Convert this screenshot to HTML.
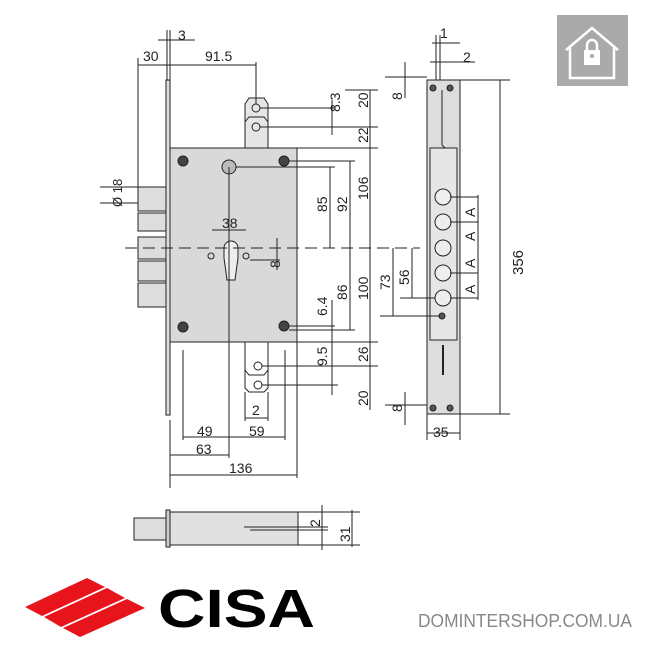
<!DOCTYPE html>
<html><head><meta charset="utf-8"><style>
html,body{margin:0;padding:0;background:#fff;}
svg{display:block;font-family:"Liberation Sans",sans-serif;}
</style></head><body>
<svg width="650" height="650" viewBox="0 0 650 650" xmlns="http://www.w3.org/2000/svg">
<g stroke="#222" stroke-width="1" fill="none">
<rect x="166" y="80" width="4" height="335" fill="#ddd"/>
<g fill="#ddd">
<rect x="138" y="187" width="28" height="24"/>
<rect x="138" y="213" width="28" height="18"/>
<rect x="138" y="237" width="28" height="22"/>
<rect x="138" y="261" width="28" height="20"/>
<rect x="138" y="283" width="28" height="24"/>
</g>
<rect x="170" y="148" width="127" height="194" fill="#d9d9d9"/>
<path d="M245,148 V104 l4,-6 h15 l4,6 V148 Z" fill="#e6e6e6"/>
<path d="M245,122 l4,-5 h15 l4,5"/>
<circle cx="256" cy="108" r="4"/><circle cx="256" cy="127" r="4"/>
<path d="M245,342 V388 l4,4 h15 l4,-4 V342"/>
<path d="M245,370 l4,5 h15 l4,-5"/>
<circle cx="258" cy="366" r="4"/><circle cx="258" cy="385" r="4"/>
<g fill="#444"><circle cx="183" cy="161" r="5"/><circle cx="284" cy="161" r="5"/><circle cx="183" cy="327" r="5"/><circle cx="284" cy="326" r="5"/></g>
<circle cx="229" cy="167" r="7" fill="#bbb"/>
<path d="M224,258 v-10 a7,7 0 0 1 14,0 v10 l-3,22 h-8 Z" fill="#eee"/>
<circle cx="211" cy="256" r="3"/><circle cx="246" cy="256" r="3"/>
<line x1="125" y1="248" x2="420" y2="248" stroke-dasharray="12,6"/>
<line x1="229" y1="167" x2="229" y2="458"/>
<line x1="183" y1="350" x2="183" y2="440"/>
<line x1="285" y1="350" x2="285" y2="440"/>
<line x1="170" y1="420" x2="170" y2="488"/>
<line x1="297" y1="342" x2="297" y2="478"/>
<line x1="245" y1="392" x2="245" y2="421"/><line x1="268" y1="392" x2="268" y2="421"/>
<line x1="138" y1="58" x2="138" y2="190"/>
<line x1="167" y1="30" x2="167" y2="80"/><line x1="170" y1="30" x2="170" y2="80"/>
<line x1="256" y1="62" x2="256" y2="104"/>
<line x1="138" y1="65" x2="256" y2="65"/>
<line x1="158" y1="40" x2="195" y2="40"/>
<line x1="183" y1="437" x2="285" y2="437"/>
<line x1="170" y1="455" x2="229" y2="455"/>
<line x1="170" y1="475" x2="297" y2="475"/>
<line x1="245" y1="418" x2="268" y2="418"/>
<line x1="100" y1="187" x2="138" y2="187"/><line x1="100" y1="203" x2="138" y2="203"/>
<line x1="260" y1="108" x2="335" y2="108"/><line x1="260" y1="127" x2="378" y2="127"/>
<line x1="345" y1="90" x2="378" y2="90"/>
<line x1="297" y1="148" x2="378" y2="148"/>
<line x1="289" y1="161" x2="355" y2="161"/>
<line x1="236" y1="167" x2="335" y2="167"/>
<line x1="289" y1="326" x2="335" y2="326"/><line x1="289" y1="330" x2="355" y2="330"/>
<line x1="297" y1="342" x2="378" y2="342"/>
<line x1="262" y1="366" x2="378" y2="366"/><line x1="262" y1="385" x2="338" y2="385"/>
<line x1="330" y1="167" x2="330" y2="248"/>
<line x1="350" y1="161" x2="350" y2="330"/>
<line x1="370" y1="90" x2="370" y2="410"/>
<line x1="332" y1="100" x2="332" y2="135"/>
<line x1="332" y1="300" x2="332" y2="395"/>
<line x1="250" y1="260" x2="280" y2="260"/><line x1="277" y1="238" x2="277" y2="270"/>
<line x1="212" y1="230" x2="246" y2="230"/>
<rect x="134" y="518" width="32" height="22" fill="#ddd"/>
<rect x="166" y="510" width="4" height="37" fill="#ccc"/>
<rect x="170" y="512" width="128" height="33" fill="#e0e0e0"/>
<line x1="244" y1="527" x2="328" y2="527"/><line x1="250" y1="530" x2="328" y2="530"/>
<line x1="298" y1="512" x2="360" y2="512"/><line x1="298" y1="545" x2="360" y2="545"/>
<line x1="322" y1="505" x2="322" y2="550"/><line x1="352" y1="510" x2="352" y2="547"/>
<rect x="427" y="80" width="33" height="334" fill="#ddd"/>
<rect x="430" y="148" width="27" height="192" fill="#e6e6e6"/>
<path d="M442,90 v55 l3,3 h12"/>
<line x1="443" y1="345" x2="443" y2="375" stroke-width="2"/>
<g fill="#eee"><circle cx="443" cy="197" r="8"/><circle cx="443" cy="222" r="8"/><circle cx="443" cy="248" r="8"/><circle cx="443" cy="273" r="8"/><circle cx="443" cy="298" r="8"/></g>
<g fill="#555"><circle cx="442" cy="316" r="3"/><circle cx="433" cy="88" r="3"/><circle cx="450" cy="88" r="3"/><circle cx="433" cy="408" r="3"/><circle cx="450" cy="408" r="3"/></g>
<line x1="460" y1="80" x2="510" y2="80"/><line x1="460" y1="414" x2="510" y2="414"/>
<line x1="500" y1="80" x2="500" y2="414"/>
<line x1="427" y1="414" x2="427" y2="440"/><line x1="460" y1="414" x2="460" y2="440"/>
<line x1="427" y1="433" x2="460" y2="433"/>
<line x1="450" y1="197" x2="478" y2="197"/><line x1="450" y1="222" x2="478" y2="222"/><line x1="450" y1="273" x2="478" y2="273"/><line x1="450" y1="298" x2="478" y2="298"/>
<line x1="478" y1="195" x2="478" y2="300"/>
<line x1="380" y1="316" x2="440" y2="316"/><line x1="400" y1="298" x2="435" y2="298"/>
<line x1="393" y1="248" x2="393" y2="316"/><line x1="412" y1="248" x2="412" y2="298"/>
<line x1="385" y1="77" x2="427" y2="77"/><line x1="405" y1="62" x2="405" y2="98"/>
<line x1="385" y1="405" x2="427" y2="405"/><line x1="405" y1="392" x2="405" y2="425"/>
<line x1="432" y1="43" x2="460" y2="43"/><line x1="436" y1="35" x2="436" y2="80"/><line x1="440" y1="35" x2="440" y2="80"/>
<line x1="430" y1="62" x2="475" y2="62"/>
</g>
<g fill="#222" font-size="14">
<text x="178" y="40">3</text>
<text x="143" y="61">30</text>
<text x="205" y="61">91.5</text>
<text x="95" y="210" font-size="13" transform="rotate(-90 107 195)">Ø 18</text>
<text x="222" y="228">38</text>
<text x="197" y="436">49</text>
<text x="249" y="436">59</text>
<text x="196" y="454">63</text>
<text x="229" y="473">136</text>
<text x="252" y="415">2</text>
<g transform="rotate(-90)">
<text x="-112" y="340">8.3</text>
<text x="-108" y="368" >20</text>
<text x="-143" y="368">22</text>
<text x="-212" y="327">85</text>
<text x="-212" y="347">92</text>
<text x="-200" y="368">106</text>
<text x="-268" y="280">8</text>
<text x="-316" y="327">6.4</text>
<text x="-300" y="347">86</text>
<text x="-300" y="368">100</text>
<text x="-366" y="327">9.5</text>
<text x="-362" y="368">26</text>
<text x="-406" y="368">20</text>
<text x="-527" y="320">2</text>
<text x="-542" y="350">31</text>
<text x="-100" y="402">8</text>
<text x="-412" y="402">8</text>
<text x="-290" y="390">73</text>
<text x="-285" y="409">56</text>
<text x="-275" y="523" font-size="15">356</text>
<text x="-217" y="475">A</text>
<text x="-241" y="475">A</text>
<text x="-268" y="475">A</text>
<text x="-294" y="475">A</text>
</g>
<text x="440" y="38">1</text>
<text x="463" y="62">2</text>
<text x="433" y="437">35</text>
</g>
<rect x="557" y="15" width="71" height="71" fill="#aaa"/>
<path d="M566,50 L592,28 L618,50 M570,47 V78 H614 V47" stroke="#fff" stroke-width="2.5" fill="none"/>
<rect x="584" y="50" width="16" height="15" fill="#fff"/>
<path d="M587,50 v-5 a5,5 0 0 1 10,0 v5" stroke="#fff" stroke-width="2.5" fill="none"/>
<circle cx="592" cy="56" r="2" fill="#aaa"/>
<g fill="#e8141b">
<polygon points="25,607 87,578 105,587 42,616"/>
<polygon points="44,617 107,588 125,598 61,627"/>
<polygon points="63,628 127,599 145,608 80,637"/>
</g>
<text x="158" y="627" font-size="54" font-weight="bold" fill="#000" textLength="157" lengthAdjust="spacingAndGlyphs">CISA</text>
<text x="418" y="627" font-size="18" fill="#888" textLength="214" lengthAdjust="spacingAndGlyphs">DOMINTERSHOP.COM.UA</text>
</svg>
</body></html>
